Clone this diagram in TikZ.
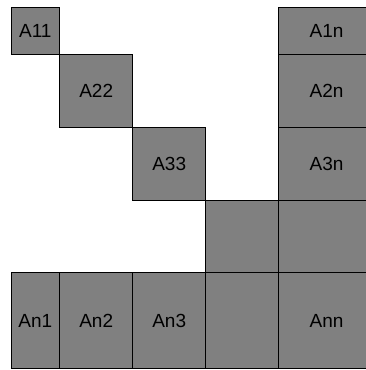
\documentclass[tikz,border=0pt]{standalone}
\usepackage{fontspec}
\setmainfont{Liberation Sans}
\definecolor{cellgray}{HTML}{808080}
\begin{document}
\begin{tikzpicture}[x=1pt,y=-1pt,
  cell/.style={draw=black, fill=cellgray, line width=0.8pt, inner sep=0pt,
    font=\fontsize{19}{22}\selectfont, text=black}]
\useasboundingbox (0,0) rectangle (366,370);
\clip (0,0) rectangle (366,370);
% columns: centers and widths
\def\cA{35.35}\def\wA{48.7pt}
\def\cB{96.2}\def\wB{73pt}
\def\cC{169.2}\def\wC{73pt}
\def\cD{242}\def\wD{72.6pt}
\def\cE{326.65}\def\wE{96.7pt}
% rows
\def\rA{30.65}\def\hA{47.3pt}
\def\rB{90.8}\def\hB{73pt}
\def\rC{163.65}\def\hC{72.7pt}
\def\rD{236.35}\def\hD{72.7pt}
\def\rE{320.5}\def\hE{95.6pt}
% diagonal
\node[cell, minimum width=\wA, minimum height=\hA] (a11) at (\cA,\rA) {A11};
\node[cell, minimum width=\wB, minimum height=\hB] (a22) at (\cB,\rB) {A22};
\node[cell, minimum width=\wC, minimum height=\hC] (a33) at (\cC,\rC) {A33};
\node[cell, minimum width=\wD, minimum height=\hD] (a44) at (\cD,\rD) {};
% last column
\node[cell, minimum width=\wE, minimum height=\hA] (a1n) at (\cE,\rA) {A1n};
\node[cell, minimum width=\wE, minimum height=\hB] (a2n) at (\cE,\rB) {A2n};
\node[cell, minimum width=\wE, minimum height=\hC] (a3n) at (\cE,\rC) {A3n};
\node[cell, minimum width=\wE, minimum height=\hD] (a4n) at (\cE,\rD) {};
% last row
\node[cell, minimum width=\wA, minimum height=\hE] (an1) at (\cA,\rE) {An1};
\node[cell, minimum width=\wB, minimum height=\hE] (an2) at (\cB,\rE) {An2};
\node[cell, minimum width=\wC, minimum height=\hE] (an3) at (\cC,\rE) {An3};
\node[cell, minimum width=\wD, minimum height=\hE] (an4) at (\cD,\rE) {};
\node[cell, minimum width=\wE, minimum height=\hE] (ann) at (\cE,\rE) {Ann};
\end{tikzpicture}
\end{document}
